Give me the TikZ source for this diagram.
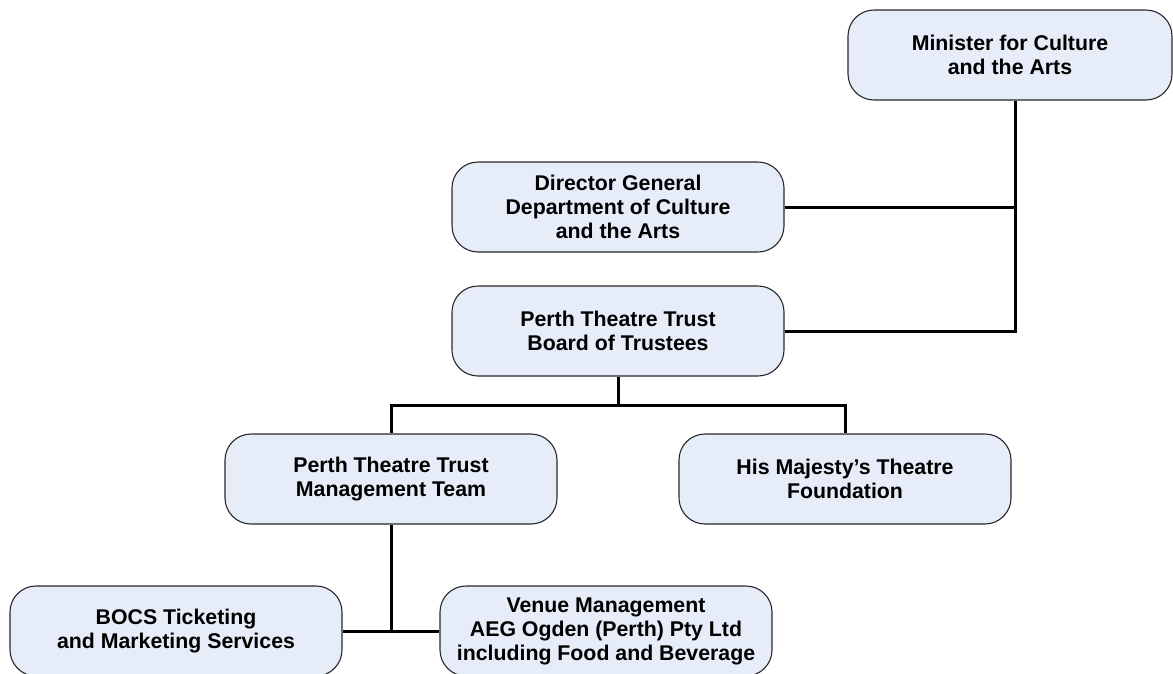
\documentclass[tikz,border=0pt]{standalone}
\usepackage{fontspec}
\setmainfont{Liberation Sans}
\usepackage{tikz}

\definecolor{boxfill}{RGB}{230,236,248}
\definecolor{boxline}{RGB}{40,40,40}

\begin{document}
\begin{tikzpicture}[x=1pt, y=-1pt,
	unit/.style={draw=boxline, line width=1.1pt, fill=boxfill, rounded corners=26pt,
		minimum width=332pt, minimum height=90pt, align=center, inner sep=0pt,
		font=\bfseries\fontsize{21.3}{24}\selectfont},
	link/.style={line width=3pt}]
	\clip (0,0) rectangle (1173,673);
	\useasboundingbox (0,0) rectangle (1173,673);

	% the units, from the minister down
	\node[unit, minimum width=324pt] (minister) at (1010,55) {Minister for Culture\\and the Arts};
	\node[unit] (director) at (618,207) {Director General\\Department of Culture\\and the Arts};
	\node[unit] (board) at (618,331) {Perth Theatre Trust\\Board of Trustees};
	\node[unit] (mgmt) at (391,479) {Perth Theatre Trust\\Management Team};
	\node[unit] (foundation) at (845,479) {His Majesty's Theatre\\Foundation};
	\node[unit] (bocs) at (176,631) {BOCS Ticketing\\and Marketing Services};
	\node[unit] (venue) at (606,631) {Venue Management\\AEG Ogden (Perth) Pty Ltd\\including Food and Beverage};

	% reporting lines
	\coordinate (drop) at ([xshift=5pt]minister.south);
	\coordinate (split) at (618,405);
	\draw[link] (drop) |- (board.east);
	\draw[link] (director.east) -- (director.east -| drop);
	\draw[link] (board.south) -- (split);
	\draw[link] (split) -| (mgmt.north);
	\draw[link] (split) -| (foundation.north);
	\draw[link] (mgmt.south) |- (bocs.east);
	\draw[link] (bocs.east) -- (venue.west);
\end{tikzpicture}
\end{document}
